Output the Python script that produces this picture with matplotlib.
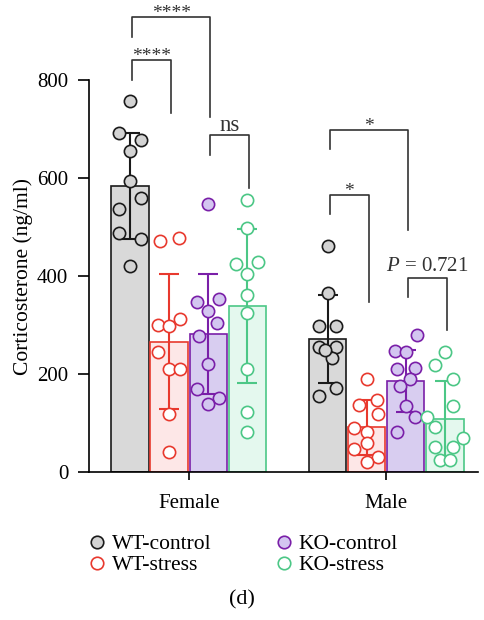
"""Corticosterone levels by sex and genotype/condition (panel d)."""

import matplotlib
matplotlib.use("Agg")
import matplotlib.pyplot as plt
from matplotlib.lines import Line2D
import numpy as np

plt.rcParams["font.family"] = ["Liberation Serif", "DejaVu Serif"]
plt.rcParams["mathtext.fontset"] = "custom"
plt.rcParams["mathtext.it"] = "Liberation Serif:italic"
plt.rcParams["mathtext.rm"] = "Liberation Serif"

SEXES = ["Female", "Male"]
GROUPS = ["WT-control", "WT-stress", "KO-control", "KO-stress"]

# bar heights (mean) and error (SD), per sex, in GROUPS order
MEANS = {"Female": [584, 266, 282, 339], "Male": [272, 91, 186, 108]}
SDS = {"Female": [108, 138, 122, 158], "Male": [90, 56, 64, 78]}

# individual animals
POINTS = {
    ("Female", "WT-control"): [758, 692, 678, 656, 594, 560, 536, 488, 475, 421],
    ("Female", "WT-stress"): [472, 478, 300, 298, 312, 244, 210, 210, 118, 41],
    ("Female", "KO-control"): [547, 348, 354, 329, 305, 278, 220, 169, 152, 138],
    ("Female", "KO-stress"): [556, 499, 424, 429, 405, 361, 324, 210, 122, 81],
    ("Male", "WT-control"): [462, 365, 299, 299, 256, 256, 232, 249, 171, 155],
    ("Male", "WT-stress"): [189, 146, 137, 118, 89, 81, 46, 30, 21, 60],
    ("Male", "KO-control"): [279, 248, 246, 210, 212, 190, 176, 135, 113, 82],
    ("Male", "KO-stress"): [244, 218, 189, 135, 113, 92, 70, 52, 52, 24, 25],
}

# horizontal scatter of the dots (in units of JITTER_STEP)
JITTER = {
    ("Female", "WT-control"): [0, -1, 1, 0, 0, 1, -1, -1, 1, 0],
    ("Female", "WT-stress"): [-0.8, 0.9, -1, 0, 1, -1, 0, 1, 0, 0],
    ("Female", "KO-control"): [0, -1, 1, 0, 0.8, -0.8, 0, -1, 1, 0],
    ("Female", "KO-stress"): [0, 0, -1, 1, 0, 0, 0, 0, 0, 0],
    ("Male", "WT-control"): [0, 0, -0.8, 0.8, -0.8, 0.8, 0.4, -0.2, 0.8, -0.8],
    ("Male", "WT-stress"): [0, 0.9, -0.7, 1, -1.1, 0, -1.1, 1, 0, 0],
    ("Male", "KO-control"): [1, -1, 0, -0.8, 0.8, 0.4, -0.5, 0, 0.8, -0.8],
    ("Male", "KO-stress"): [0, -0.85, 0.75, 0.75, -1.65, -0.85, 1.6, -0.85, 0.75, -0.45, 0.45],
}
JITTER_STEP = 0.056

# significance brackets: sex, left group, right group, top, left leg end, right leg end, label
BRACKETS = [
    ("Female", 0, 2, 928, 888, 725, "****"),
    ("Female", 0, 1, 841, 801, 733, "****"),
    ("Female", 2, 3, 688, 647, 579, "ns"),
    ("Male", 0, 2, 698, 659, 495, "*"),
    ("Male", 0, 1, 565, 526, 348, "*"),
    ("Male", 2, 3, 397, 358, 290, r"$P$ = 0.721"),
]

EDGE = ["#1a1a1a", "#e8392e", "#7a1fa8", "#4cc786"]
BAR_FACE = ["#d9d9d9", "#fde7e7", "#d8cdf0", "#e4f8ee"]
DOT_FACE = ["#d3d3d3", "white", "#d3c6f0", "white"]

BAR_W = 0.19
BAR_STEP = 0.198


def bar_x(sex_idx, grp_idx):
    return sex_idx + (grp_idx - 1.5) * BAR_STEP


def main():
    fig = plt.figure(figsize=(4.84, 6.2), dpi=100)
    ax = fig.add_axes([0.1839, 0.2387, 0.8037, 0.632])

    for si, sex in enumerate(SEXES):
        for gi, grp in enumerate(GROUPS):
            x = bar_x(si, gi)
            ax.bar(x, MEANS[sex][gi], width=BAR_W, color=BAR_FACE[gi],
                   edgecolor=EDGE[gi], linewidth=1.2, zorder=1)
            ax.errorbar(x, MEANS[sex][gi], yerr=SDS[sex][gi], color=EDGE[gi],
                        capsize=7, capthick=1.5, elinewidth=1.5, zorder=2)
            vals = np.array(POINTS[(sex, grp)])
            xs = x + np.array(JITTER[(sex, grp)]) * JITTER_STEP
            ax.scatter(xs, vals, s=78, facecolor=DOT_FACE[gi], edgecolor=EDGE[gi],
                       linewidth=1.2, zorder=3, clip_on=False)

    for sex, g1, g2, top, y1, y2, label in BRACKETS:
        si = SEXES.index(sex)
        x1 = bar_x(si, g1) + 0.01
        x2 = bar_x(si, g2) + 0.01
        ax.plot([x1, x1, x2, x2], [y1, top, top, y2], color="#333333",
                linewidth=1.2, clip_on=False, zorder=4)
        if label.startswith("*"):
            fs, dy = 14, -2
        elif label == "ns":
            fs, dy = 16.5, 8
        else:
            fs, dy = 15, 13
        ax.text((x1 + x2) / 2, top + dy, label, ha="center", va="baseline",
                fontsize=fs, color="#333333")

    ax.set_ylim(0, 800)
    ax.set_xlim(-0.505, 1.465)
    ax.set_yticks([0, 200, 400, 600, 800])
    ax.set_xticks([0.0, 1.0])
    ax.set_xticklabels(SEXES)
    ax.set_ylabel("Corticosterone (ng/ml)", fontsize=15.5, labelpad=3)
    ax.tick_params(axis="y", length=8, width=1.2, labelsize=15, pad=7)
    ax.tick_params(axis="x", length=6, width=1.2, labelsize=15, pad=10)
    for side in ["top", "right"]:
        ax.spines[side].set_visible(False)
    for side in ["left", "bottom"]:
        ax.spines[side].set_linewidth(1.2)

    handles = [
        Line2D([], [], linestyle="none", marker="o", markersize=9,
               markerfacecolor=DOT_FACE[i], markeredgecolor=EDGE[i],
               markeredgewidth=1.2, label=GROUPS[i])
        for i in range(4)
    ]
    fig.legend(handles=handles, ncol=2, loc="upper left",
               bbox_to_anchor=(0.178, 0.1387), frameon=False, fontsize=15.5,
               handlelength=1.0, handletextpad=0.2, columnspacing=2.85,
               labelspacing=0.05, borderpad=0, borderaxespad=0,
               bbox_transform=fig.transFigure)
    fig.text(0.5, 0.032, "(d)", ha="center", va="center", fontsize=16)

    fig.savefig("out.png", dpi=100)


if __name__ == "__main__":
    main()
